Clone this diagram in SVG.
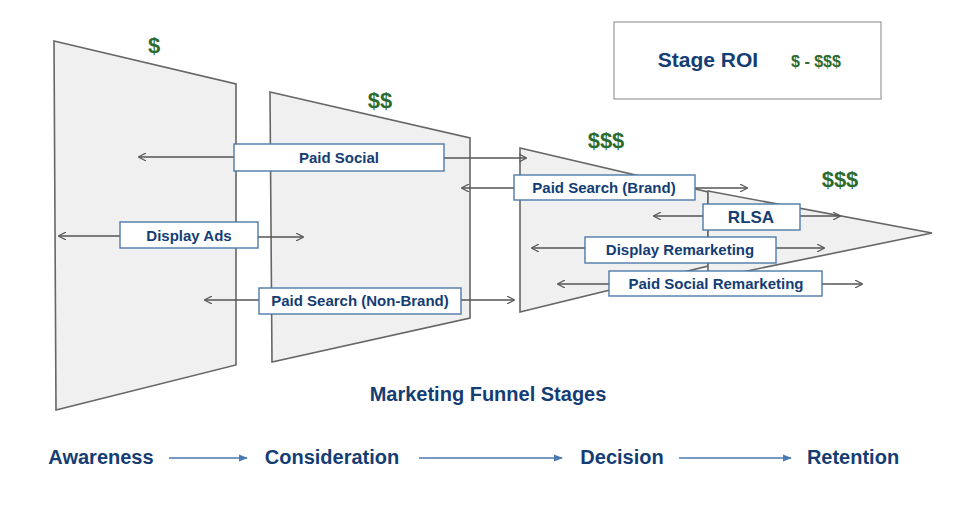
<svg xmlns="http://www.w3.org/2000/svg" width="966" height="513" viewBox="0 0 966 513">
<style>
.f{fill:#f0f0f1;stroke:#666;stroke-width:1.6}
.b{fill:#fff;stroke:#4f7aa8;stroke-width:1.4}
.t{font-family:"Liberation Sans",Arial,sans-serif;font-weight:bold;fill:#143d73;text-anchor:middle}
.d{font-family:"Liberation Sans",Arial,sans-serif;font-weight:bold;fill:#2d6a2d;text-anchor:middle}
.c line{stroke:#555;stroke-width:1.6;marker-end:url(#a)}
.s line{stroke:#4a7ab0;stroke-width:1.4;marker-end:url(#a2)}
</style>
<defs>
<marker id="a" viewBox="0 0 10 10" refX="9" refY="5" markerWidth="8" markerHeight="8" orient="auto" markerUnits="userSpaceOnUse"><path d="M0,0L10,5L0,10" fill="none" stroke="#555" stroke-width="1.6"/></marker>
<marker id="a2" viewBox="0 0 10 10" refX="9" refY="5" markerWidth="9" markerHeight="9" orient="auto" markerUnits="userSpaceOnUse"><path d="M0,1L10,5L0,9z" fill="#4a7ab0"/></marker>
</defs>
<rect width="966" height="513" fill="#fff"/>
<g id="funnel1"><polygon class="f" points="54,41 236,84 236,365 56,410"/></g>
<g id="funnel2"><polygon class="f" points="270,92 470,138 470,318 272,362"/></g>
<g id="funnel3"><polygon class="f" points="520,148 708,192 708,266 520,312"/></g>
<g id="funnel4"><polygon class="f" points="708,191 932,233 708,279"/></g>
<g id="dollars">
<text class="d" x="154" y="53" font-size="22">$</text>
<text class="d" x="380" y="108" font-size="22">$$</text>
<text class="d" x="606" y="148" font-size="22">$$$</text>
<text class="d" x="840" y="187" font-size="22">$$$</text>
</g>
<g class="c" id="connectors">
<line x1="234" y1="157" x2="139" y2="157"/><line x1="444" y1="158" x2="526" y2="158"/>
<line x1="120" y1="236" x2="59" y2="236"/><line x1="258" y1="237" x2="303" y2="237"/>
<line x1="259" y1="300" x2="205" y2="300"/><line x1="461" y1="300" x2="514" y2="300"/>
<line x1="514" y1="188" x2="462" y2="188"/><line x1="695" y1="188" x2="747" y2="188"/>
<line x1="703" y1="216" x2="654" y2="216"/><line x1="800" y1="216" x2="840" y2="216"/>
<line x1="585" y1="248" x2="532" y2="248"/><line x1="776" y1="248" x2="824" y2="248"/>
<line x1="609" y1="284" x2="558" y2="284"/><line x1="822" y1="284" x2="862" y2="284"/>
</g>
<g id="paid-social"><rect class="b" x="234" y="144" width="210" height="27"/><text class="t" x="339" y="163" font-size="15">Paid Social</text></g>
<g id="display-ads"><rect class="b" x="120" y="222" width="138" height="26"/><text class="t" x="189" y="241" font-size="15">Display Ads</text></g>
<g id="paid-search-nonbrand"><rect class="b" x="259" y="288" width="202" height="26"/><text class="t" x="360" y="306" font-size="15">Paid Search (Non-Brand)</text></g>
<g id="paid-search-brand"><rect class="b" x="514" y="175" width="181" height="25"/><text class="t" x="604" y="193" font-size="15">Paid Search (Brand)</text></g>
<g id="rlsa"><rect class="b" x="703" y="204" width="97" height="26"/><text class="t" x="751" y="223" font-size="17">RLSA</text></g>
<g id="display-remarketing"><rect class="b" x="585" y="237" width="191" height="26"/><text class="t" x="680" y="255" font-size="15">Display Remarketing</text></g>
<g id="paid-social-remarketing"><rect class="b" x="609" y="271" width="213" height="25"/><text class="t" x="716" y="289" font-size="15">Paid Social Remarketing</text></g>
<g id="stage-roi"><rect x="614" y="22" width="267" height="77" fill="#fff" stroke="#999" stroke-width="1.2"/>
<text class="t" x="708" y="67" font-size="21">Stage ROI</text><text class="d" x="816" y="67" font-size="16">$ - $$$</text></g>
<text class="t" x="488" y="401" font-size="20">Marketing Funnel Stages</text>
<g id="stages">
<text class="t" x="101" y="464" font-size="20">Awareness</text>
<text class="t" x="332" y="464" font-size="20">Consideration</text>
<text class="t" x="622" y="464" font-size="20">Decision</text>
<text class="t" x="853" y="464" font-size="20">Retention</text>
</g>
<g class="s" id="stage-arrows">
<line x1="169" y1="458" x2="247" y2="458"/><line x1="419" y1="458" x2="562" y2="458"/><line x1="679" y1="458" x2="791" y2="458"/>
</g>
</svg>
